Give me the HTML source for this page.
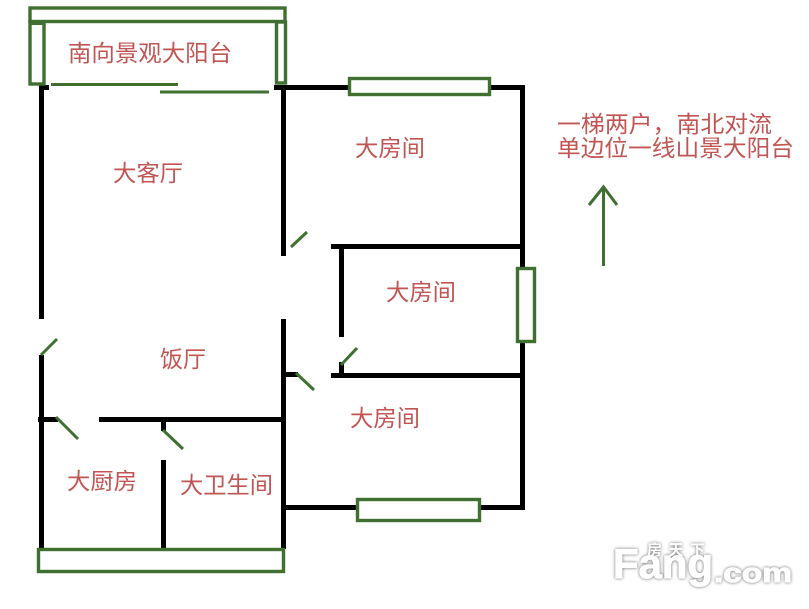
<!DOCTYPE html>
<html><head><meta charset="utf-8"><style>
html,body{margin:0;padding:0;background:#fff}
svg{display:block}
.t{font-family:"Liberation Sans","WenQuanYi Zen Hei","Noto Sans CJK SC",sans-serif;font-size:23px;fill:#c05553}
</style></head><body>
<svg width="809" height="609" viewBox="0 0 809 609" xmlns="http://www.w3.org/2000/svg">
<rect width="809" height="609" fill="#fff"/>
<g fill="#000">
<rect x="39" y="85" width="10" height="5"/>
<rect x="39" y="85" width="5" height="234"/>
<rect x="39" y="355" width="5" height="194"/>
<rect x="274" y="85" width="250" height="5"/>
<rect x="281" y="85" width="5" height="171"/>
<rect x="281" y="319" width="5" height="230"/>
<rect x="520" y="85" width="5" height="425"/>
<rect x="331" y="244" width="192" height="5"/>
<rect x="339" y="246" width="5" height="91"/>
<rect x="339" y="362" width="5" height="14"/>
<rect x="331" y="373" width="192" height="5"/>
<rect x="283" y="372" width="15" height="5"/>
<rect x="283" y="505" width="240" height="5"/>
<rect x="38" y="417" width="20" height="5"/>
<rect x="99" y="417" width="185" height="5"/>
<rect x="161" y="419" width="5" height="12"/>
<rect x="161" y="460" width="5" height="89"/>
</g>
<g fill="#fff" stroke="#3f7030" stroke-width="3.4">
<rect x="30" y="8" width="255" height="13.5" fill="none"/>
<rect x="30" y="22" width="14" height="62"/>
<rect x="276.5" y="22" width="9" height="61"/>
<rect x="349.5" y="78.5" width="140" height="16"/>
<rect x="517.5" y="268.5" width="17" height="73"/>
<rect x="357.5" y="499.5" width="122" height="21"/>
<rect x="38.5" y="549.5" width="245" height="22"/>
</g>
<rect x="30" y="21" width="15" height="4" fill="#3f7030"/>
<g fill="none" stroke="#3f7030" stroke-width="3">
<path d="M51 84.5H178M160 92H269"/>
<path d="M291 247L307 232M341 365L357 348M296 373L314 390M41 355L57 339M56 417L78 439M163 430L183 449"/>
<path d="M603.5 266V188" stroke-width="3"/>
<path d="M589 205L603.5 187L617 205" stroke-width="3"/>
</g>
<g class="t">
<text class="t" x="68" y="61" textLength="164" lengthAdjust="spacingAndGlyphs">南向景观大阳台</text>
<text class="t" x="113" y="181" textLength="70" lengthAdjust="spacingAndGlyphs">大客厅</text>
<text class="t" x="355" y="156" textLength="70" lengthAdjust="spacingAndGlyphs">大房间</text>
<text class="t" x="386" y="300" textLength="70" lengthAdjust="spacingAndGlyphs">大房间</text>
<text class="t" x="350" y="426" textLength="70" lengthAdjust="spacingAndGlyphs">大房间</text>
<text class="t" x="160" y="367" textLength="46" lengthAdjust="spacingAndGlyphs">饭厅</text>
<text class="t" x="67" y="489" textLength="70" lengthAdjust="spacingAndGlyphs">大厨房</text>
<text class="t" x="180" y="493" textLength="93" lengthAdjust="spacingAndGlyphs">大卫生间</text>
<text class="t" x="557" y="132" textLength="215" lengthAdjust="spacingAndGlyphs">一梯两户，南北对流</text>
<text class="t" x="557" y="156" textLength="237" lengthAdjust="spacingAndGlyphs">单边位一线山景大阳台</text>
</g>
<g style="filter:drop-shadow(0 0 1.5px rgba(0,0,0,.6))" fill="#fff" stroke="#fff" stroke-width="1">
<text x="613" y="578" font-family="Liberation Sans,sans-serif" font-weight="700" font-size="42" textLength="100" lengthAdjust="spacingAndGlyphs">Fang</text>
<text x="714" y="582" font-family="Liberation Sans,sans-serif" font-weight="700" font-size="27" textLength="78" lengthAdjust="spacingAndGlyphs">.com</text>
<text x="647" y="555" font-family="'Liberation Sans','Noto Sans CJK SC',sans-serif" font-size="15" font-weight="700" stroke-width="0" textLength="58" lengthAdjust="spacing">房天下</text>
</g>
</svg>
</body></html>
